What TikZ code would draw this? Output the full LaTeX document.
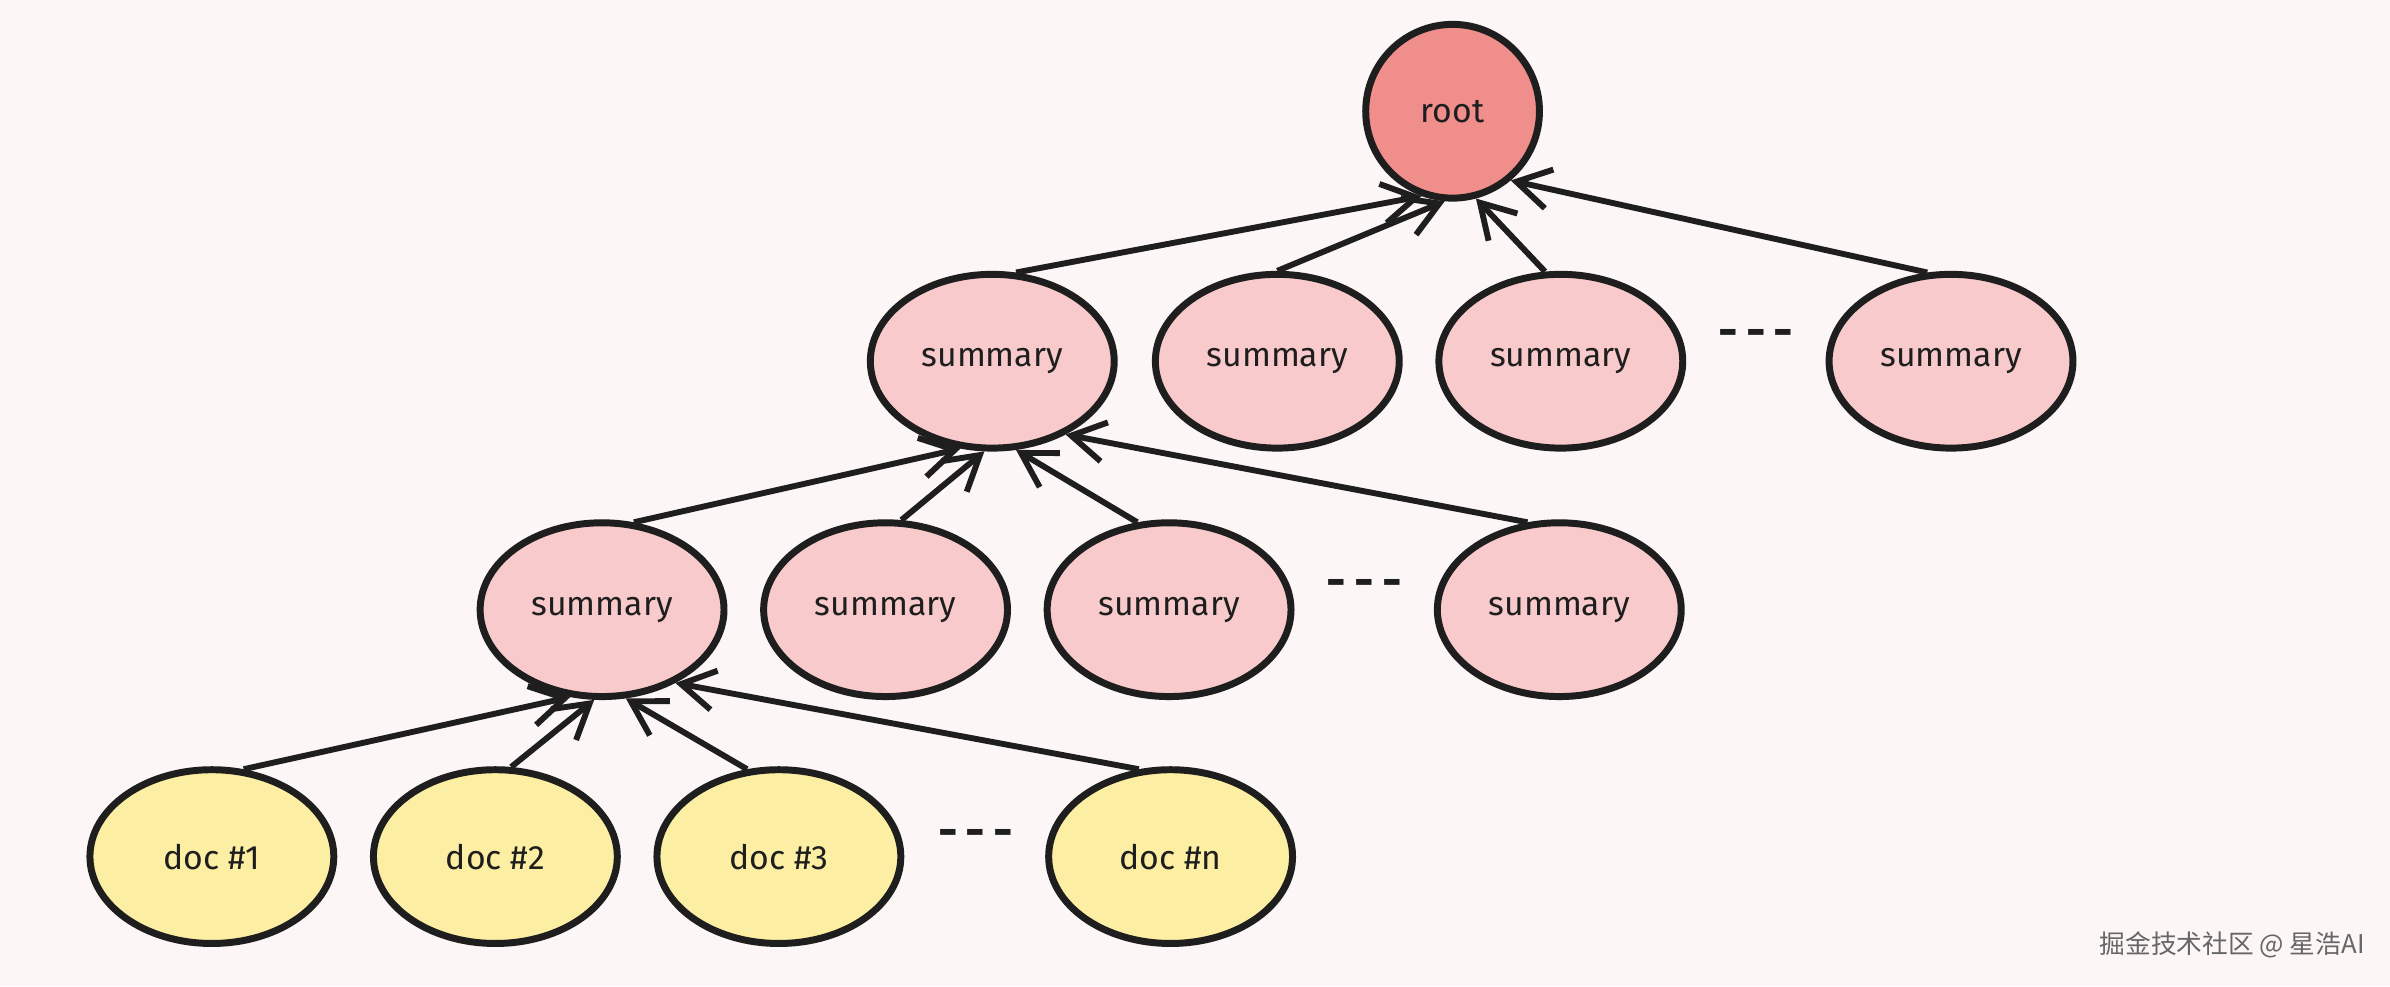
\documentclass[tikz,border=0pt]{standalone}
\usepackage{fontspec}
\setmainfont{Fira Sans}
\newfontfamily\cjk{Noto Sans CJK SC}
\usetikzlibrary{arrows.meta,shapes.geometric}
\definecolor{bg}{HTML}{FDF6F6}
\definecolor{rootc}{HTML}{F08E8C}
\definecolor{sumc}{HTML}{F8CACB}
\definecolor{docc}{HTML}{FCEEA2}
\definecolor{ink}{HTML}{1E1E1E}
\begin{document}
\begin{tikzpicture}[x=0.1mm,y=-0.1mm,
  base/.style={ellipse,draw=ink,line width=1.3pt,font=\fontsize{6.3}{8}\selectfont,text=ink,inner sep=0pt},
  rt/.style={base,fill=rootc,circle,minimum size=11.4mm},
  sm/.style={base,fill=sumc,minimum width=16mm,minimum height=11.4mm},
  dc/.style={base,fill=docc,minimum width=16mm,minimum height=11.4mm},
  arr/.style={draw=ink,line width=1.1pt,-{Straight Barb[length=2.2mm,width=2.6mm]}},
  dots/.style={font=\fontsize{9}{9}\selectfont\bfseries,text=ink}]
\fill[bg] (0,0) rectangle (1568,647);
\useasboundingbox (0,0) rectangle (1568,647);
\node[rt] (root) at (953,73) {root};
\node[sm] (s1) at (651,237) {summary};
\node[sm] (s2) at (838,237) {summary};
\node[sm] (s3) at (1024,237) {summary};
\node[sm] (s4) at (1280,237) {summary};
\node[dots] (d1) at (1152,222) {-\,-\,-};
\node[sm] (a1) at (395,400) {summary};
\node[sm] (a2) at (581,400) {summary};
\node[sm] (a3) at (767,400) {summary};
\node[sm] (a4) at (1023,400) {summary};
\node[dots] (d2) at (895,386) {-\,-\,-};
\node[dc] (c1) at (139,562) {doc \#1};
\node[dc] (c2) at (325,562) {doc \#2};
\node[dc] (c3) at (511,562) {doc \#3};
\node[dc] (c4) at (768,562) {doc \#n};
\node[dots] (d3) at (640,550) {-\,-\,-};
\draw[arr] (s1.75) -- (root.250);
\draw[arr] (s2.90) -- (root.265);
\draw[arr] (s3.100) -- (root.285);
\draw[arr] (s4.105) -- (root.310);
\draw[arr] (a1.70) -- (s1.250);
\draw[arr] (a2.80) -- (s1.265);
\draw[arr] (a3.110) -- (s1.285);
\draw[arr] (a4.110) -- (s1.315);
\draw[arr] (c1.70) -- (a1.250);
\draw[arr] (c2.80) -- (a1.265);
\draw[arr] (c3.110) -- (a1.285);
\draw[arr] (c4.110) -- (a1.315);
\node[text=black!60,font=\cjk\fontsize{4.8}{5}\selectfont,anchor=east,inner sep=0pt] (wm) at (1552,620) {掘金技术社区 @ 星浩AI};
\end{tikzpicture}
\end{document}
